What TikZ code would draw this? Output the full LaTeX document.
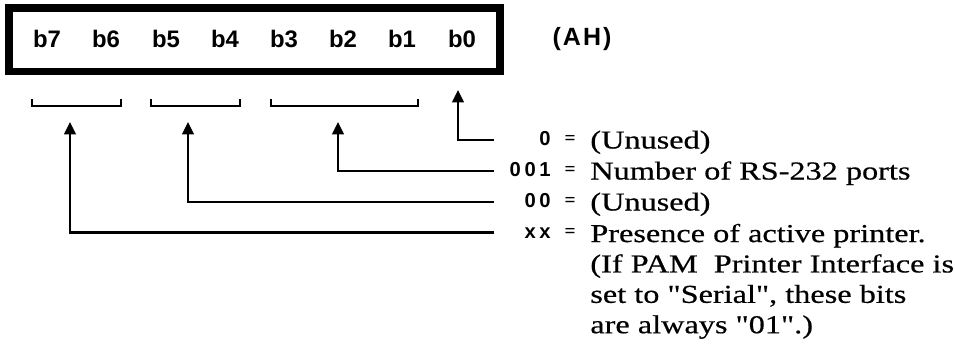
\documentclass[tikz,border=0pt]{standalone}
\usepackage{fontspec}
\setmainfont{Liberation Serif}
\setsansfont{Liberation Sans}
\newfontfamily\descfont[FakeStretch=1.25,FakeBold=0.5]{Liberation Serif}
\newfontfamily\valfont[LetterSpace=18]{Liberation Sans}
\newfontfamily\tagfont[LetterSpace=8]{Liberation Sans}
\usetikzlibrary{arrows.meta}

\begin{document}
\begin{tikzpicture}[x=0.02cm,y=-0.02cm,
    bitlabel/.style={font=\sffamily\bfseries\fontsize{13.6}{15}\selectfont,inner sep=0pt},
    valnode/.style={font=\valfont\bfseries\fontsize{11.5}{13}\selectfont,text width=32.3pt,align=right,
      inner sep=0pt,text height=6.8pt,text depth=0pt,anchor=east},
    eqsign/.style={font=\bfseries\fontsize{11}{12}\selectfont,inner sep=0pt},
    desc/.style={font=\descfont\fontsize{14.7}{17.3}\selectfont,align=left,inner sep=0pt,anchor=base west},
    pointer/.style={line width=1.4pt,-{Triangle[length=7pt,width=6.5pt]}},
    bracket/.style={line width=1.1pt}]
  \useasboundingbox (0,0) rectangle (955,349);
  \draw[line width=4.5pt] (9,8) rectangle (500,71.5);
  \foreach \i/\xpos in {7/47,6/106,5/166,4/225,3/284,2/343,1/402,0/462}
    \node[bitlabel] (b\i) at (\xpos,39) {b\i};
  \node[bitlabel,font=\tagfont\bfseries\fontsize{14.2}{15}\selectfont] (ah) at (582,39) {(AH)};
  \draw[bracket] (32,99) -- (32,106) -- (121,106) -- (121,99);
  \draw[bracket] (151,99) -- (151,106) -- (240,106) -- (240,99);
  \draw[bracket] (271,99) -- (271,106) -- (418,106) -- (418,99);
  \coordinate (t0) at (458,90);
  \coordinate (t001) at (338,122);
  \coordinate (t00) at (188,122);
  \coordinate (txx) at (70,122);
  \node[valnode] (v0) at (551,140) {0};
  \node[valnode] (v001) at (551,171) {001};
  \node[valnode] (v00) at (551,202) {00};
  \node[valnode] (vxx) at (551,232.5) {xx};
  \node[eqsign] (e0) at (570,140) {=};
  \node[eqsign] (e001) at (570,171) {=};
  \node[eqsign] (e00) at (570,202) {=};
  \node[eqsign] (exx) at (570,232.5) {=};
  \node[desc] (d0) at (590,148.5) {(Unused)};
  \node[desc] (d001) at (590,179.5) {Number of RS-232 ports};
  \node[desc] (d00) at (590,210.5) {(Unused)};
  \node[desc,anchor=north west] (dxx) at (590,223.5) {Presence of active printer.\\(If PAM\ \ Printer Interface is\\set to "Serial", these bits\\are always "01".)};
  \draw[pointer] (v0.west) -| (t0);
  \draw[pointer] (v001.west) -| (t001);
  \draw[pointer] (v00.west) -| (t00);
  \draw[pointer] (vxx.west) -| (txx);
\end{tikzpicture}
\end{document}
